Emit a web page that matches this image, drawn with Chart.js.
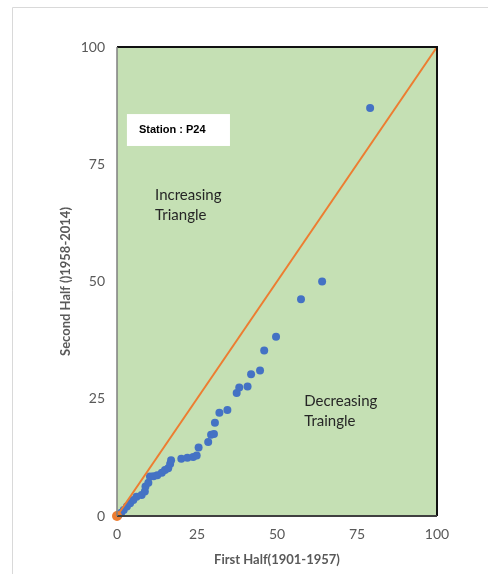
<!DOCTYPE html>
<html>
<head>
<meta charset="utf-8">
<script src="https://cdn.jsdelivr.net/npm/chart.js@4.4.0/dist/chart.umd.min.js"></script>
<style>
  html, body { margin: 0; padding: 0; background: #fff; }
  #wrap { width: 488px; height: 574px; position: relative; }
</style>
</head>
<body>
<div id="wrap"><canvas id="qq" width="488" height="574"></canvas></div>
<script>
// Q-Q pairs (sorted values of each half)
const firstHalf = [0.5, 1.3, 2.1, 3.1, 4.1, 5.1, 6.1, 7.7, 8.7, 8.9, 9.8, 10.3, 11.4, 12.6, 14.0,
  15.0, 16.0, 16.6, 16.9, 20.1, 22.0, 23.8, 24.9, 25.5, 28.5, 29.4, 30.3, 30.6, 32.0, 34.5,
  37.4, 38.2, 40.8, 41.9, 44.7, 46.0, 49.7, 57.5, 64.1, 79.1];
const secondHalf = [0.2, 0.7, 1.3, 2.0, 2.7, 3.4, 4.1, 4.5, 5.2, 6.3, 7.1, 8.4, 8.5, 8.7, 9.2,
  9.8, 10.2, 11.1, 11.9, 12.2, 12.4, 12.6, 12.9, 14.6, 15.8, 17.3, 17.5, 19.9, 22.0, 22.6,
  26.2, 27.4, 27.6, 30.2, 31.0, 35.3, 38.2, 46.2, 50.0, 87.0];
const equalLineX = [0, 100];
const equalLineY = [0, 100];
const tickValues = [0, 25, 50, 75, 100];

const stationLabel = 'Station : P24';
const notes = [
  { lines: ['Increasing', 'Triangle'], x: 11.9, y: 68.4 },
  { lines: ['Decreasing', 'Traingle'], x: 58.5, y: 24.5 }
];

const GRAY = '#595959';

const frame = {
  id: 'frame',
  beforeDraw(chart) {
    const { ctx, chartArea: a } = chart;
    ctx.save();
    ctx.fillStyle = '#c5e0b4';
    ctx.fillRect(a.left, a.top, a.right - a.left, a.bottom - a.top);
    // outer chart border
    ctx.strokeStyle = '#d9d9d9';
    ctx.lineWidth = 1;
    ctx.beginPath();
    ctx.moveTo(12.5, chart.height);
    ctx.lineTo(12.5, 7.5);
    ctx.lineTo(chart.width, 7.5);
    ctx.stroke();
    ctx.restore();
  },
  afterDraw(chart) {
    const { ctx, chartArea: a, scales } = chart;
    const sx = scales.x, sy = scales.y;
    ctx.save();
    // plot border
    ctx.lineWidth = 2;
    ctx.strokeStyle = '#111';
    ctx.beginPath();
    ctx.moveTo(a.left, a.top);
    ctx.lineTo(a.right, a.top);
    ctx.lineTo(a.right, a.bottom);
    ctx.stroke();
    ctx.strokeStyle = '#404040';
    ctx.beginPath();
    ctx.moveTo(a.right, a.bottom);
    ctx.lineTo(a.left, a.bottom);
    ctx.stroke();
    ctx.strokeStyle = '#7f7f7f';
    ctx.lineWidth = 1.5;
    ctx.beginPath();
    ctx.moveTo(a.left, a.bottom);
    ctx.lineTo(a.left, a.top);
    ctx.stroke();

    // station box
    const bx0 = sx.getPixelForValue(3.1), bx1 = sx.getPixelForValue(35.3);
    const by0 = sy.getPixelForValue(85.7), by1 = sy.getPixelForValue(78.9);
    ctx.fillStyle = '#fff';
    ctx.fillRect(bx0, by0, bx1 - bx0, by1 - by0);
    ctx.fillStyle = '#000';
    ctx.font = 'bold 11px "Liberation Sans", Arial, sans-serif';
    ctx.textBaseline = 'middle';
    ctx.fillText(stationLabel, bx0 + 12, (by0 + by1) / 2);

    // region notes
    ctx.fillStyle = '#262626';
    ctx.font = '15px Lato, "Open Sans", sans-serif';
    notes.forEach(n => {
      const px = sx.getPixelForValue(n.x), py = sy.getPixelForValue(n.y);
      n.lines.forEach((t, i) => ctx.fillText(t, px, py + i * 20));
    });
    ctx.restore();
  }
};

new Chart(document.getElementById('qq'), {
  type: 'scatter',
  data: {
    datasets: [
      {
        label: 'Equal line',
        type: 'line',
        data: equalLineX.map((x, i) => ({ x, y: equalLineY[i] })),
        borderColor: '#ed7d31',
        backgroundColor: '#ed7d31',
        borderWidth: 2,
        pointRadius: [5, 0],
        pointHoverRadius: [5, 0],
        pointBorderWidth: 0,
        clip: false,
        order: 0
      },
      {
        label: 'Q-Q',
        data: firstHalf.map((x, i) => ({ x, y: secondHalf[i] })),
        backgroundColor: '#4472c4',
        borderColor: '#4472c4',
        pointRadius: 4,
        pointBorderWidth: 0,
        clip: false,
        order: 1
      }
    ]
  },
  options: {
    responsive: false,
    animation: false,
    layout: { padding: { top: 47, right: 51, left: 0, bottom: 0 } },
    plugins: { legend: { display: false }, tooltip: { enabled: false } },
    scales: {
      x: {
        type: 'linear', min: 0, max: 100,
        afterBuildTicks: s => { s.ticks = tickValues.map(v => ({ value: v })); },
        afterFit: s => { s.height = 58; },
        grid: { display: false, drawTicks: false },
        border: { display: false },
        ticks: { color: GRAY, padding: 10, font: { family: 'Lato', size: 14 } },
        title: {
          display: true, text: 'First Half(1901-1957)', color: GRAY,
          font: { family: 'Lato', size: 13, weight: 'bold' },
          padding: { top: 0, bottom: 6 }
        }
      },
      y: {
        type: 'linear', min: 0, max: 100,
        afterBuildTicks: s => { s.ticks = tickValues.map(v => ({ value: v })); },
        afterFit: s => { s.width = 117; },
        grid: { display: false, drawTicks: false },
        border: { display: false },
        ticks: { color: GRAY, padding: 12, font: { family: 'Lato', size: 14 } },
        title: {
          display: true, text: 'Second Half ()1958-2014)', color: GRAY,
          font: { family: 'Lato', size: 13, weight: 'bold' },
          padding: { top: 58, bottom: 0 }
        }
      }
    }
  },
  plugins: [frame]
});
</script>
</body>
</html>
